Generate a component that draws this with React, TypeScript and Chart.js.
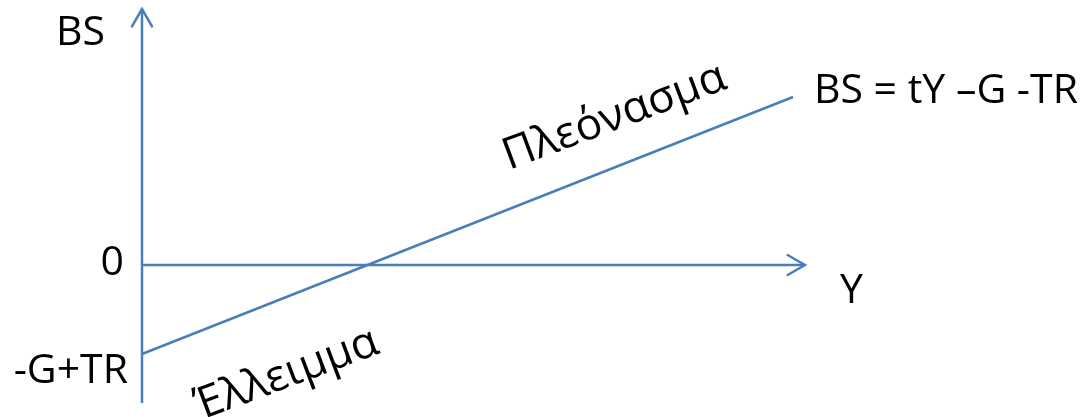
import React, { useEffect, useRef } from "react";
import { Chart, registerables } from "chart.js";
Chart.register(...registerables);

// Axis extents (Y units horizontally, BS units vertically)
const yAxisXs = [0, 0];
const yAxisYs = [-1.55, 2.876];
const xAxisXs = [0, 10];
const xAxisYs = [0, 0];
// Budget surplus line BS = tY - G - TR (endpoints)
const bsLineXs = [0, 9.82];
const bsLineYs = [-1, 1.888];
// Visible window
const xRange = [-2.142, 14.27];
const yRange = [-1.708, 2.978];

const axisTitleY = "BS";
const zeroLabel = "0";
const interceptLabel = "-G+TR";
const axisTitleX = "Y";
const equationLabel = "BS = tY \u2013G -TR";
const surplusLabel = "Πλεόνασμα";
const deficitLabel = "Έλλειμμα";

const BLUE = "#4A7EBB";
const FONT = "41px 'Open Sans'";
const ROT_FONT = "44px 'Open Sans'";

const toPts = (xs: number[], ys: number[]) => xs.map((x, i) => ({ x, y: ys[i] }));

export default function App() {
  const ref = useRef<HTMLCanvasElement | null>(null);
  useEffect(() => {
    document.body.style.margin = "0";
    const canvas = ref.current!;
    const annot = {
      id: "annot",
      afterDatasetsDraw(chart: any) {
        const ctx = chart.ctx as CanvasRenderingContext2D;
        const xs = chart.scales.x;
        const ys = chart.scales.y;
        // arrowheads on axes (datasets 0 and 1)
        [0, 1].forEach((di) => {
          const meta = chart.getDatasetMeta(di);
          const pts = meta.data;
          const a = pts[pts.length - 2];
          const b = pts[pts.length - 1];
          const ang = Math.atan2(b.y - a.y, b.x - a.x);
          const L = 20;
          const h = (30 * Math.PI) / 180;
          ctx.save();
          ctx.strokeStyle = BLUE;
          ctx.lineWidth = 2.5;
          ctx.lineCap = "round";
          ctx.beginPath();
          ctx.moveTo(b.x - L * Math.cos(ang - h), b.y - L * Math.sin(ang - h));
          ctx.lineTo(b.x, b.y);
          ctx.lineTo(b.x - L * Math.cos(ang + h), b.y - L * Math.sin(ang + h));
          ctx.stroke();
          ctx.restore();
        });
        const ox = xs.getPixelForValue(0);
        const oy = ys.getPixelForValue(0);
        const iy = ys.getPixelForValue(bsLineYs[0]);
        const topY = ys.getPixelForValue(yAxisYs[1]);
        const endX = xs.getPixelForValue(xAxisXs[1]);
        const lineEndX = xs.getPixelForValue(bsLineXs[1]);
        const lineEndY = ys.getPixelForValue(bsLineYs[1]);
        ctx.save();
        ctx.fillStyle = "#000";
        ctx.font = FONT;
        ctx.textBaseline = "alphabetic";
        ctx.textAlign = "left";
        ctx.fillText(axisTitleY, ox - 86, topY + 36);
        ctx.textAlign = "right";
        ctx.fillText(zeroLabel, ox - 18, oy + 10);
        ctx.fillText(interceptLabel, ox - 14, iy + 29);
        ctx.textAlign = "left";
        ctx.fillText(axisTitleX, endX + 35, oy + 38);
        ctx.fillText(equationLabel, lineEndX + 21, lineEndY + 6);
        const rot = (20.5 * Math.PI) / 180;
        ctx.font = ROT_FONT;
        ctx.save();
        ctx.translate(509, 170);
        ctx.rotate(-rot);
        ctx.fillText(surplusLabel, 0, 0);
        ctx.restore();
        ctx.save();
        ctx.translate(201, 420);
        ctx.rotate(-rot);
        ctx.fillText(deficitLabel, 0, 0);
        ctx.restore();
        ctx.restore();
      },
    };
    const ds = (xs: number[], ys: number[]) => ({
      data: toPts(xs, ys),
      showLine: true,
      borderColor: BLUE,
      borderWidth: 2.5,
      pointRadius: 0,
      fill: false,
      tension: 0,
    });
    const chart = new Chart(canvas, {
      type: "scatter",
      data: {
        datasets: [ds(yAxisXs, yAxisYs), ds(xAxisXs, xAxisYs), ds(bsLineXs, bsLineYs)],
      },
      options: {
        animation: false,
        responsive: false,
        layout: { padding: 0 },
        plugins: { legend: { display: false }, tooltip: { enabled: false } },
        scales: {
          x: { type: "linear", min: xRange[0], max: xRange[1], display: false },
          y: { type: "linear", min: yRange[0], max: yRange[1], display: false },
        },
      },
      plugins: [annot],
    });
    return () => chart.destroy();
  }, []);
  return (
    <div style={{ width: 1088, height: 417 }}>
      <canvas ref={ref} width={1088} height={417} style={{ display: "block" }} />
    </div>
  );
}
